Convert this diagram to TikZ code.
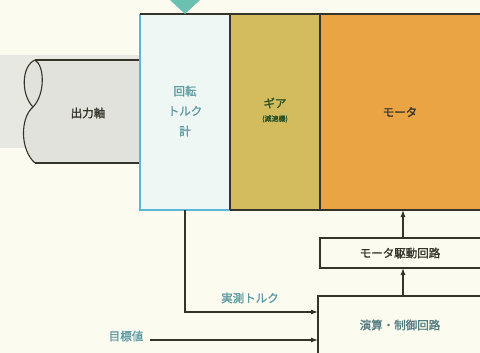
\documentclass[tikz,border=0pt]{standalone}
\usepackage{fontspec}
\newfontfamily\jp{Noto Sans CJK JP}[FakeBold=1.5]
\usetikzlibrary{arrows.meta}
\definecolor{bg}{HTML}{FBFBF0}
\definecolor{band}{HTML}{E8E8E2}
\definecolor{ink}{HTML}{34342A}
\definecolor{tealtx}{HTML}{5E9AA2}
\definecolor{torquefill}{HTML}{EEF7F4}
\definecolor{torqueedge}{HTML}{5CB6DC}
\definecolor{gearfill}{HTML}{D2BC5E}
\definecolor{motorfill}{HTML}{EBA444}
\definecolor{diam}{HTML}{6CC0B0}
\definecolor{shaftfill}{HTML}{E2E2DC}
\tikzset{
  conn/.style={draw=ink, line width=1.1pt},
  arr/.style={conn, -{Latex[length=7pt,width=5pt]}},
  lbl/.style={font=\jp\fontsize{11.5}{13}\selectfont, inner sep=0pt},
  cbox/.style={draw=ink, line width=1.1pt, fill=bg},
}
\begin{document}
\begin{tikzpicture}[x=1pt,y=-1pt]
\useasboundingbox (0,0) rectangle (480,353);
\clip (0,0) rectangle (480,353);
\fill[bg] (0,0) rectangle (480,353);
\fill[band] (0,55) rectangle (140,148);
% shaft
\coordinate (st) at (35,60);
\coordinate (sm) at (33,107);
\coordinate (sb) at (35,163);
\fill[shaftfill] (st) -- (140,60) -- (140,163) -- (sb) .. controls (20,150) and (20,118) .. (sm) .. controls (21,95) and (21,66) .. (st);
\draw[conn] (st) -- (140,60);
\draw[conn] (sb) -- (140,163);
\draw[conn] (st) .. controls (21,66) and (21,95) .. (sm);
\draw[conn] (st) .. controls (45,66) and (45,95) .. (sm);
\draw[conn] (sm) .. controls (20,118) and (20,150) .. (sb);
\node[lbl, text=ink] (shaft) at (88,113) {出力軸};
% boxes
\fill[motorfill] (320,14) rectangle (490,210);
\fill[gearfill] (230,14) rectangle (320,210);
\fill[torquefill] (140,14) rectangle (230,210);
\draw[torqueedge, line width=1.3pt] (230,210) -- (140,210) -- (140,14);
\draw[ink, line width=1.3pt] (140,14) -- (490,14);
\draw[ink, line width=1.3pt] (230,14) -- (230,210);
\draw[ink, line width=1.3pt] (320,14) -- (320,210);
\draw[ink, line width=1.3pt] (230,210) -- (490,210);
\coordinate (torque) at (185,210);
\coordinate (motor) at (403,210);
\fill[diam] (170,0) -- (200,0) -- (185,14) -- cycle;
\node[lbl, text=tealtx, align=center, font=\jp\fontsize{11.5}{20}\selectfont] (tq) at (185,111) {回転\\トルク\\計};
\node[lbl, text=ink!85!green] (gear) at (275,103) {ギア};
\node[lbl, text=ink!85!green, font=\jp\fontsize{7}{8}\selectfont] (gear2) at (275,119) {(減速機)};
\node[lbl, text=ink] (mot) at (400,112) {モータ};
% drive circuit
\draw[cbox] (320,238) rectangle (490,268);
\node[lbl, text=ink] (drv) at (400,253) {モータ駆動回路};
\coordinate (drvtop) at (403,238);
\coordinate (drvbot) at (403,268);
% control circuit
\draw[cbox] (318,296) rectangle (490,365);
\node[lbl, text=tealtx!70!ink] (ctl) at (400,325) {演算・制御回路};
\coordinate (ctltop) at (403,296);
\coordinate (ctlin1) at (318,312);
\coordinate (ctlin2) at (318,340);
% connectors
\draw[arr] (drvtop) -- (motor);
\draw[arr] (ctltop) -- (drvbot);
\draw[arr] (torque) |- (ctlin1);
\node[lbl, text=tealtx] (meas) at (250,298) {実測トルク};
\node[lbl, text=tealtx] (goal) at (126,336) {目標値};
\coordinate (gstart) at (150,340);
\draw[arr] (gstart) -- (ctlin2);
\end{tikzpicture}
\end{document}
